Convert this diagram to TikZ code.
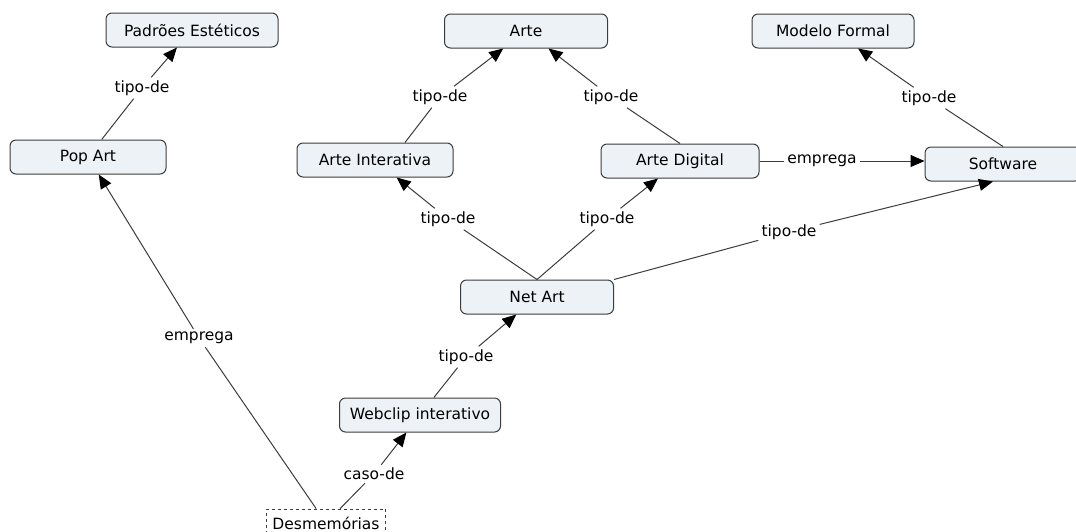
\documentclass[tikz,border=0pt]{standalone}
\usepackage{fontspec}
\setmainfont{DejaVu Sans}
\usetikzlibrary{arrows.meta}
\definecolor{conceptfill}{RGB}{236,242,246}
\definecolor{conceptline}{RGB}{60,60,60}
\tikzstyle{concept}=[draw=conceptline,fill=conceptfill,rounded corners=6pt,line width=1pt,minimum height=34pt,inner sep=0pt,font=\fontsize{15.5}{18}\selectfont]
\tikzstyle{source}=[draw=conceptline,dashed,line width=0.8pt,minimum height=28pt,inner sep=0pt,font=\fontsize{15.5}{18}\selectfont]
\tikzstyle{link}=[fill=white,inner sep=3pt,font=\fontsize{15.5}{18}\selectfont]
\tikzstyle{edge}=[draw=conceptline,line width=1pt]
\tikzstyle{arc}=[edge,-{Triangle[length=14pt,width=12pt,color=black]}]

\begin{document}
\begin{tikzpicture}[x=1pt,y=-1pt]
\useasboundingbox (0,0) rectangle (1076,531);
% concepts
\node[concept,minimum width=172pt] (padroes) at (192,30) {Padrões Estéticos};
\node[concept,minimum width=163pt] (arte) at (526,31) {Arte};
\node[concept,minimum width=162pt] (modelo) at (833,31) {Modelo Formal};
\node[concept,minimum width=156pt] (popart) at (88,157) {Pop Art};
\node[concept,minimum width=156pt] (interativa) at (375,160) {Arte Interativa};
\node[concept,minimum width=158pt] (digital) at (680,161) {Arte Digital};
\node[concept,minimum width=156pt] (software) at (1003,164) {Software};
\node[concept,minimum width=153pt] (netart) at (537,297) {Net Art};
\node[concept,minimum width=161pt] (webclip) at (420,415) {Webclip interativo};
\node[source,minimum width=119pt] (desm) at (326,523) {Desmemórias};
% linking phrases
\node[link] (l1) at (142,88) {tipo-de};
\node[link] (l2) at (440,97) {tipo-de};
\node[link] (l3) at (611,97) {tipo-de};
\node[link] (l4) at (929,98) {tipo-de};
\node[link] (l5) at (822,161) {emprega};
\node[link] (l6) at (448,219) {tipo-de};
\node[link] (l7) at (607,219) {tipo-de};
\node[link] (l8) at (789,232) {tipo-de};
\node[link] (l9) at (199,338) {emprega};
\node[link] (l10) at (466,357) {tipo-de};
\node[link] (l11) at (374,474) {caso-de};
% connections
\draw[edge] (popart) -- (l1);
\draw[arc] (l1) -- (padroes);
\draw[edge] ([xshift=30pt]interativa.north) -- (l2);
\draw[arc] (l2) -- (arte);
\draw[edge] (digital.north) -- (l3);
\draw[arc] (l3) -- (arte);
\draw[edge] (software.north) -- (l4);
\draw[arc] (l4) -- (modelo);
\draw[edge] (digital.east |- l5) -- (l5);
\draw[arc] (l5) -- (l5 -| software.west);
\draw[edge] (netart.north) -- (l6);
\draw[arc] (l6) -- (interativa);
\draw[edge] (netart.north) -- (l7);
\draw[arc] (l7) -- (digital);
\draw[edge] (netart.north east) -- (l8);
\draw[arc] (l8) -- ([xshift=-10pt]software.south);
\draw[edge] (desm) -- (l9);
\draw[arc] (l9) -- (popart);
\draw[edge] (webclip) -- (l10);
\draw[arc] (l10) -- (netart);
\draw[edge] (desm) -- (l11);
\draw[arc] (l11) -- (webclip);
\end{tikzpicture}
\end{document}
